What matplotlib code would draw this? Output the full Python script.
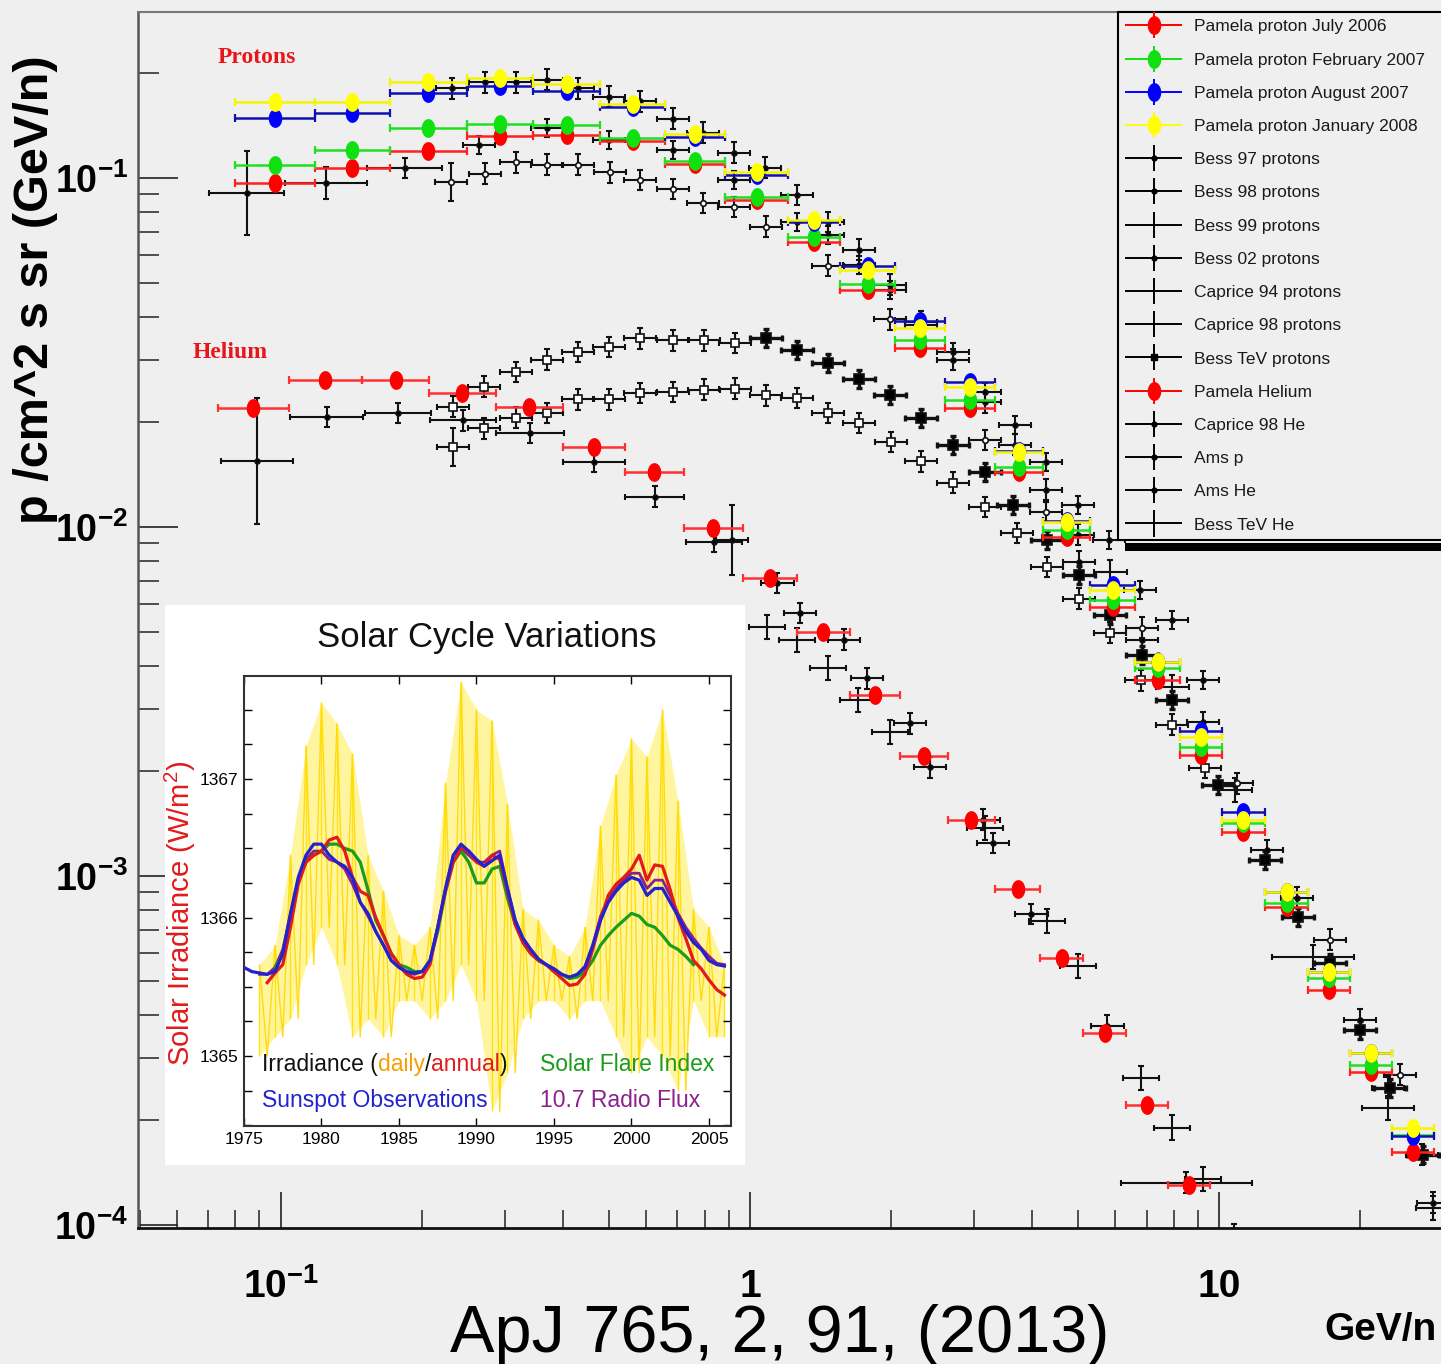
import numpy as np
import matplotlib
matplotlib.use("Agg")
import matplotlib.pyplot as plt
from matplotlib.path import Path
from matplotlib.patches import Rectangle
from matplotlib.container import ErrorbarContainer
from matplotlib.legend_handler import HandlerErrorbar
from matplotlib.ticker import LogLocator, NullFormatter, MultipleLocator

plt.rcParams["font.family"] = ["Liberation Sans", "DejaVu Sans"]
plt.rcParams["mathtext.fontset"] = "custom"
plt.rcParams["mathtext.rm"] = "Liberation Sans"
plt.rcParams["mathtext.it"] = "Liberation Sans:italic"
plt.rcParams["mathtext.bf"] = "Liberation Sans:bold"

# ---------------- PAMELA proton spectra (GeV/n bins) ----------------
pam_p_edges = [0.080, 0.118, 0.171, 0.249, 0.345, 0.479, 0.659, 0.885, 1.205,
               1.556, 2.04, 2.60, 3.33, 4.21, 5.31, 6.62, 8.26, 10.15, 12.5,
               15.5, 19.0, 23.4, 28.7]
pam_p_jul06 = [0.0968, 0.107, 0.1195, 0.132, 0.133, 0.128, 0.110, 0.0865, 0.0656,
               0.0478, 0.0326, 0.0219, 0.0144, 0.00935, 0.0059, 0.00365, 0.00222,
               0.00134, 0.000815, 0.000471, 0.000274, 0.000162]
pam_p_feb07 = [0.109, 0.120, 0.139, 0.143, 0.142, 0.130, 0.112, 0.0882, 0.0678,
               0.0497, 0.0343, 0.0231, 0.0149, 0.0098, 0.00618, 0.00394, 0.00234,
               0.00142, 0.000838, 0.000511, 0.000287, 0.000181]
pam_p_aug07 = [0.149, 0.154, 0.175, 0.183, 0.178, 0.160, 0.131, 0.102, 0.075,
               0.056, 0.039, 0.026, 0.0165, 0.0104, 0.0068, 0.0041, 0.0026,
               0.00152, 0.00090, 0.00053, 0.00031, 0.00018]
pam_p_jan08 = [0.165, 0.165, 0.188, 0.194, 0.186, 0.163, 0.134, 0.104, 0.0758,
               0.0545, 0.0372, 0.0252, 0.0164, 0.0103, 0.0066, 0.0041, 0.0025,
               0.00145, 0.00090, 0.00053, 0.00031, 0.00019]

# ---------------- PAMELA helium ----------------
pam_he_edges = [0.0734, 0.104, 0.149, 0.207, 0.287, 0.399, 0.541, 0.723, 0.966,
                1.26, 1.63, 2.09, 2.64, 3.33, 4.15, 5.13, 6.33, 7.78, 9.57]
pam_he = [0.0219, 0.0264, 0.0264, 0.0242, 0.0221, 0.0170, 0.0144, 0.00993,
          0.00714, 0.0050, 0.0033, 0.00221, 0.00145, 0.000918, 0.000582,
          0.000355, 0.000221, 0.00013]

# ---------------- other experiments (x, flux, half bin width [dec], error [dec]) ----------------
bess97_x = [0.0846, 0.1247, 0.1838, 0.2644, 0.369, 0.500, 0.685, 0.924, 1.259,
            1.708, 2.316, 3.170, 4.277, 5.829, 7.94]
bess97_y = [0.0906, 0.0968, 0.1068, 0.1243, 0.139, 0.1285, 0.1203, 0.0987,
            0.0748, 0.0563, 0.0379, 0.0244, 0.01536, 0.00918, 0.00541]
bess97_hw = [0.080, 0.088, 0.080] + [0.034] * 12
bess97_ey = [0.12, 0.045, 0.028] + [0.025] * 12

bess98_x = [0.2315, 0.2723, 0.317, 0.369, 0.430, 0.500, 0.5826, 0.685, 0.794,
            0.924, 1.076, 1.259, 1.467, 1.708, 1.988, 2.316, 2.709, 3.170,
            3.673, 4.277, 5.005]
bess98_y = [0.181, 0.188, 0.188, 0.191, 0.181, 0.171, 0.166, 0.148, 0.135,
            0.118, 0.107, 0.0894, 0.0748, 0.0622, 0.0494, 0.0387, 0.0301,
            0.0228, 0.0172, 0.0128, 0.0095]

bess99_x = [0.2326, 0.271, 0.317, 0.369, 0.430, 0.500, 0.5826, 0.685, 0.798,
            0.929, 1.082, 1.259, 1.467, 1.708, 1.998, 2.316, 2.709, 3.170,
            3.709, 4.298, 5.029, 5.855, 6.818, 7.94, 9.335]
bess99_y = [0.01695, 0.01921, 0.02053, 0.02121, 0.02326, 0.02326, 0.02421,
            0.02437, 0.0247, 0.02486, 0.02388, 0.02342, 0.02121, 0.01986,
            0.01752, 0.01545, 0.01337, 0.01141, 0.00961, 0.00768, 0.00622,
            0.00497, 0.00364, 0.00271, 0.00204]
bess99_ey = [0.055] + [0.03] * 24

bess02_x = [1.467, 1.988, 2.709, 3.673, 5.005, 6.784, 9.245]
bess02_y = [0.0687, 0.0478, 0.0317, 0.0196, 0.01156, 0.0066, 0.00364]

caprice94_x = [0.2304, 0.2723, 0.317, 0.369, 0.430, 0.503, 0.5826, 0.685, 0.794,
               0.924, 1.082, 1.467, 1.988, 3.170, 4.277, 6.851, 10.92, 17.25, 24.3]
caprice94_y = [0.0974, 0.1027, 0.1111, 0.109, 0.109, 0.104, 0.0987, 0.093,
               0.0848, 0.0826, 0.0724, 0.056, 0.0394, 0.01775, 0.01104,
               0.00514, 0.001846, 0.000656, 0.000269]
caprice94_ey = [0.055] + [0.03] * 18

caprice98_x = [5.855, 7.94, 10.82, 15.86, 22.93, 28.5]
caprice98_y = [0.00743, 0.00348, 0.001764, 0.000586, 0.000216, 0.0001118]
caprice98_hw = [0.035, 0.035, 0.035, 0.088, 0.055, 0.035]

besstev_lo_x = [0.2326, 0.2710, 0.317, 0.369, 0.430, 0.500, 0.5826, 0.685,
                0.798, 0.929]
besstev_lo_y = [0.02208, 0.02519, 0.0278, 0.0301, 0.03172, 0.03279, 0.03478,
                0.03433, 0.03433, 0.03366]
besstev_x = [1.082, 1.259, 1.467, 1.708, 1.988, 2.316, 2.709, 3.170, 3.637,
             4.298, 5.029, 5.855, 6.851, 7.94, 9.95, 12.5, 14.74, 17.25,
             19.98, 23.15, 27.2]
besstev_y = [0.03478, 0.03214, 0.02951, 0.02655, 0.02388, 0.02053, 0.01718,
             0.01437, 0.01156, 0.00918, 0.00729, 0.0056, 0.0043, 0.00319,
             0.00182, 0.00111, 0.000763, 0.000563, 0.000362, 0.000247, 0.000159]

amsp_x = [5.029, 6.851, 9.245, 12.66, 14.67, 19.98, 22.93, 27.1, 28.5]
amsp_y = [0.00794, 0.00475, 0.00276, 0.001187, 0.000865, 0.000387, 0.000247,
          0.000159, 0.0001156]

caprice98he_x = [0.0889, 0.1253, 0.1777, 0.2445, 0.3396, 0.465, 0.627, 0.838,
                 1.142, 1.586, 2.193, 3.140, 3.973, 5.770, 8.505]
caprice98he_y = [0.01545, 0.02066, 0.02121, 0.02025, 0.01859, 0.01536, 0.01219,
                 0.00906, 0.00691, 0.00475, 0.00274, 0.001447, 0.000778,
                 0.000372, 0.000132]
caprice98he_hw = [0.076, 0.078, 0.071, 0.071, 0.072, 0.066, 0.063, 0.060,
                  0.035, 0.035, 0.035, 0.035, 0.035, 0.035, 0.14]
caprice98he_ey = [0.18] + [0.03] * 14

amshe_x = [0.915, 1.278, 1.776, 2.420, 3.297]
amshe_y = [0.00918, 0.00567, 0.00369, 0.00205, 0.001243]
amshe_ey = [0.10, 0.03, 0.03, 0.03, 0.03]

besstevhe_x = [1.087, 1.259, 1.467, 1.70, 1.988, 3.170, 4.298, 5.005, 6.818,
               7.94, 9.245, 10.76]
besstevhe_y = [0.00517, 0.00475, 0.00394, 0.00319, 0.002586, 0.001372,
               0.000743, 0.000552, 0.000264, 0.00019, 0.0001355, 0.000093]

legend_names = ["Pamela proton July 2006", "Pamela proton February 2007",
                "Pamela proton August 2007", "Pamela proton January 2008",
                "Bess 97 protons", "Bess 98 protons", "Bess 99 protons",
                "Bess 02 protons", "Caprice 94 protons", "Caprice 98 protons",
                "Bess TeV protons", "Pamela Helium", "Caprice 98 He", "Ams p",
                "Ams He", "Bess TeV He"]

# ---------------- solar cycle inset ----------------
env_years = np.arange(1976, 2007, 1.0)
irr_daily_hi = [1365.66, 1365.80, 1366.45, 1367.24, 1367.55, 1367.40, 1367.18,
                1366.45, 1366.19, 1365.87, 1365.80, 1365.93, 1366.97, 1367.70,
                1367.50, 1367.42, 1366.82, 1366.06, 1365.98, 1365.80, 1365.72,
                1365.93, 1366.66, 1367.03, 1367.29, 1367.16, 1367.50, 1366.84,
                1366.06, 1365.93, 1365.66]
irr_daily_lo = [1365.00, 1365.14, 1365.27, 1365.66, 1365.93, 1365.66, 1365.14,
                1365.27, 1365.14, 1365.40, 1365.40, 1365.27, 1365.40, 1365.66,
                1365.40, 1364.60, 1364.88, 1365.27, 1365.40, 1365.40, 1365.27,
                1365.40, 1365.40, 1365.14, 1364.88, 1365.14, 1365.00, 1364.75,
                1365.40, 1365.14, 1365.14]

annual_years = np.arange(1976.5, 2006.01, 0.5)
irr_annual = [1365.53, 1365.60, 1365.66, 1365.93, 1366.24, 1366.40, 1366.45,
              1366.48, 1366.56, 1366.58, 1366.48, 1366.29, 1366.19, 1366.16,
              1366.00, 1365.87, 1365.74, 1365.66, 1365.59, 1365.56, 1365.57,
              1365.66, 1365.93, 1366.19, 1366.40, 1366.50, 1366.48, 1366.40,
              1366.37, 1366.45, 1366.42, 1366.19, 1365.95, 1365.82, 1365.74,
              1365.69, 1365.66, 1365.61, 1365.56, 1365.51, 1365.52, 1365.59,
              1365.77, 1365.98, 1366.16, 1366.24, 1366.29, 1366.35, 1366.45,
              1366.27, 1366.38, 1366.37, 1366.20, 1366.00, 1365.85, 1365.69,
              1365.63, 1365.55, 1365.48, 1365.44]

sunspot_years = np.arange(1975.0, 2006.01, 0.5)
irr_sunspot = [1365.64, 1365.61, 1365.60, 1365.59, 1365.61, 1365.74, 1366.03,
               1366.29, 1366.45, 1366.53, 1366.53, 1366.45, 1366.40, 1366.37,
               1366.29, 1366.11, 1366.03, 1365.90, 1365.80, 1365.69, 1365.64,
               1365.61, 1365.60, 1365.61, 1365.69, 1365.93, 1366.21, 1366.45,
               1366.53, 1366.48, 1366.42, 1366.37, 1366.41, 1366.45, 1366.21,
               1365.98, 1365.85, 1365.77, 1365.70, 1365.66, 1365.63, 1365.59,
               1365.57, 1365.59, 1365.64, 1365.80, 1365.98, 1366.11, 1366.19,
               1366.25, 1366.29, 1366.27, 1366.16, 1366.21, 1366.21, 1366.11,
               1366.01, 1365.90, 1365.82, 1365.77, 1365.69, 1365.66, 1365.65]

flare_years = np.arange(1977.0, 2004.01, 0.5)
irr_flare = [1365.64, 1365.74, 1366.01, 1366.27, 1366.40, 1366.45, 1366.48,
             1366.53, 1366.53, 1366.50, 1366.48, 1366.40, 1366.20, 1365.98,
             1365.87, 1365.74, 1365.66, 1365.64, 1365.61, 1365.61, 1365.69,
             1365.90, 1366.19, 1366.40, 1366.48, 1366.40, 1366.25, 1366.25,
             1366.35, 1366.37, 1366.14, 1365.95, 1365.82, 1365.74, 1365.69,
             1365.66, 1365.61, 1365.59, 1365.56, 1365.57, 1365.61, 1365.69,
             1365.80, 1365.87, 1365.93, 1365.98, 1366.03, 1366.01, 1365.95,
             1365.93, 1365.87, 1365.80, 1365.77, 1365.72, 1365.66]

radio_years = np.arange(1976.0, 2006.01, 0.5)
irr_radio = [1365.59, 1365.59, 1365.64, 1365.77, 1366.03, 1366.27, 1366.42,
             1366.48, 1366.48, 1366.42, 1366.40, 1366.35, 1366.24, 1366.11,
             1366.01, 1365.90, 1365.80, 1365.69, 1365.64, 1365.60, 1365.59,
             1365.61, 1365.69, 1365.93, 1366.21, 1366.45, 1366.50, 1366.45,
             1366.40, 1366.40, 1366.45, 1366.48, 1366.21, 1365.98, 1365.85,
             1365.77, 1365.70, 1365.66, 1365.63, 1365.59, 1365.56, 1365.59,
             1365.65, 1365.80, 1366.01, 1366.14, 1366.21, 1366.27, 1366.32,
             1366.32, 1366.21, 1366.27, 1366.27, 1366.16, 1366.03, 1365.93,
             1365.85, 1365.78, 1365.72, 1365.67, 1365.66]

inset_years = [1975, 1980, 1985, 1990, 1995, 2000, 2005]
inset_levels = [1365, 1366, 1367]

# =====================================================================
W, H = 1441, 1364
BG = "#efefef"
fig = plt.figure(figsize=(W / 100, H / 100), dpi=100, facecolor=BG)
ax = fig.add_axes([138 / W, 1 - 1228 / H, 1 - 138 / W, (1228 - 12) / H],
                  facecolor=BG)
ax.set_xscale("log")
ax.set_yscale("log")

theta = np.linspace(0, 2 * np.pi, 41)
ELL = Path(np.column_stack([0.70 * np.sin(theta), np.cos(theta)]), closed=True)


def draw_set(x, y, hw=0.034, ey=0.025, marker=None, ms=4, mfc="k",
             lw=1.5, cap=2.5, color="#111111", z=3):
    x = np.asarray(x, float)
    y = np.asarray(y, float)
    hw = np.broadcast_to(np.asarray(hw, float), x.shape)
    ey = np.broadcast_to(np.asarray(ey, float), x.shape)
    xerr = [x - x * 10 ** -hw, x * 10 ** hw - x]
    yerr = [y - y * 10 ** -ey, y * 10 ** ey - y]
    ax.errorbar(x, y, xerr=xerr, yerr=yerr, fmt="none", ecolor=color,
                elinewidth=lw, capsize=cap, capthick=lw, zorder=z)
    if marker is not None:
        ax.plot(x, y, ls="none", marker=marker, ms=ms, mfc=mfc, mec=color,
                mew=1.2, zorder=z + 0.1)


def pamela(edges, vals, color, ecolor=None, z=5):
    e = np.asarray(edges, float)
    v = np.asarray(vals, float)
    lo, hi = e[:-1], e[1:]
    xc = np.sqrt(lo * hi)
    ax.errorbar(xc, v, xerr=[xc - lo, hi - xc],
                yerr=[v - v * 10 ** -0.012, v * 10 ** 0.012 - v], fmt="none",
                ecolor=ecolor or color, elinewidth=1.8, capsize=3,
                capthick=1.6, zorder=z)
    ax.plot(xc, v, ls="none", marker=ELL, ms=12.5, color=color, mec=color,
            zorder=z + 0.5)


# black data sets
draw_set(caprice94_x, caprice94_y, 0.034, caprice94_ey, marker="o", ms=4, mfc="white")
draw_set(bess97_x, bess97_y, bess97_hw, bess97_ey, marker="o", ms=3.5)
draw_set(bess98_x, bess98_y, 0.034, 0.03, marker="o", ms=3.5)
draw_set(bess02_x, bess02_y, 0.034, 0.025, marker="o", ms=3.5)
draw_set(caprice98_x, caprice98_y, caprice98_hw, 0.035)
draw_set(amsp_x, amsp_y, 0.034, 0.03, marker="o", ms=3.5)
draw_set(bess99_x, bess99_y, 0.034, bess99_ey, marker="s", ms=5.5, mfc="white")
draw_set(besstev_lo_x, besstev_lo_y, 0.034, 0.03, marker="s", ms=5.5, mfc="white")
draw_set(besstev_x, besstev_y, 0.034, 0.025, marker="s", ms=6.5, lw=2.4)
draw_set(caprice98he_x, caprice98he_y, caprice98he_hw, caprice98he_ey, marker="o", ms=3.5)
draw_set(amshe_x, amshe_y, 0.034, amshe_ey, marker="o", ms=3.5)
draw_set(besstevhe_x, besstevhe_y, 0.038, 0.035)

# PAMELA
pamela(pam_he_edges, pam_he, "#ff0000", "#ff3030")
pamela(pam_p_edges, pam_p_jul06, "#ff0000", "#ff2020")
pamela(pam_p_edges, pam_p_feb07, "#10e010", "#20e020")
pamela(pam_p_edges, pam_p_aug07, "#0000ff", "#1010b0")
pamela(pam_p_edges, pam_p_jan08, "#ffff00", "#f5f500")

ax.text(0.0889, 0.222, "Protons", color="#e8161b", fontsize=17,
        fontweight="bold", family="Liberation Serif", ha="center", va="center")
ax.text(0.0778, 0.0317, "Helium", color="#e8161b", fontsize=17,
        fontweight="bold", family="Liberation Serif", ha="center", va="center")

# legend with proxy handles
styles = [("#ff0000", ELL, 12.5), ("#10e010", ELL, 12.5), ("#0000ff", ELL, 12.5),
          ("#ffff00", ELL, 12.5), ("k", "o", 3.5), ("k", "o", 3.5), ("k", None, 0),
          ("k", "o", 3.5), ("k", None, 0), ("k", None, 0), ("k", "s", 5),
          ("#ff0000", ELL, 12.5), ("k", "o", 3.5), ("k", "o", 3.5),
          ("k", "o", 3.5), ("k", None, 0)]
handles = []
for name, (col, mk, ms) in zip(legend_names, styles):
    kw = dict(xerr=[[1.0], [1.0]], yerr=[[1.0], [1.0]], ecolor=col,
              elinewidth=1.4, capsize=0, label=name)
    if mk is None:
        h = ax.errorbar([np.nan], [np.nan], fmt="none", **kw)
    else:
        h = ax.errorbar([np.nan], [np.nan], ls="none", marker=mk, ms=ms,
                        color=col, mfc=col, mec=col, **kw)
    handles.append(h)

leg = ax.legend(handles=handles, labels=legend_names, loc="upper left",
                bbox_to_anchor=(1118 / W, 0, 0.3, 1 - 12 / H),
                bbox_transform=fig.transFigure, mode="expand", borderaxespad=0,
                fontsize=12.5, labelspacing=1.04, handlelength=3.3,
                handletextpad=0.65, borderpad=0.42, fancybox=False,
                framealpha=1, facecolor=BG, edgecolor="k",
                handler_map={ErrorbarContainer: HandlerErrorbar(xerr_size=1.64,
                                                                yerr_size=0.75)})
leg.get_frame().set_linewidth(1.5)
leg.set_zorder(20)
for t in leg.get_texts():
    t.set_color("#1a1a1a")
ax.add_patch(Rectangle((1125 / W, 1 - 551 / H), 0.3, 8 / H,
                       transform=fig.transFigure, facecolor="k",
                       edgecolor="none", zorder=19, clip_on=False))

# white panel behind the solar inset
ax.add_patch(Rectangle((165 / W, 1 - 1165 / H), 580 / W, 560 / H,
                       transform=fig.transFigure, facecolor="white",
                       edgecolor="none", zorder=10, clip_on=False))

# axes formatting
ax.set_xlim(0.0496, 29.7)
ax.set_ylim(9.8e-5, 0.299)
ax.set_xticks([0.1, 1, 10], labels=[r"$\mathregular{10^{-1}}$", "1", "10"])
ax.set_yticks([1e-4, 1e-3, 1e-2, 1e-1],
              labels=[r"$\mathregular{10^{-4}}$", r"$\mathregular{10^{-3}}$",
                      r"$\mathregular{10^{-2}}$", r"$\mathregular{10^{-1}}$"])
ax.xaxis.set_minor_locator(LogLocator(base=10, subs=np.arange(2, 10)))
ax.yaxis.set_minor_locator(LogLocator(base=10, subs=np.arange(2, 10)))
ax.xaxis.set_minor_formatter(NullFormatter())
ax.yaxis.set_minor_formatter(NullFormatter())
ax.tick_params(axis="x", which="major", direction="in", length=26, width=1.2,
               pad=50, labelsize=28, color="#222222")
ax.tick_params(axis="x", which="minor", direction="in", length=13, width=1.1,
               color="#222222")
ax.tick_params(axis="y", which="major", direction="in", length=29, width=1.2,
               pad=7, labelsize=27, color="#222222")
ax.tick_params(axis="y", which="minor", direction="in", length=15, width=1.1,
               color="#222222")
ax.tick_params(which="both", top=False, right=False)
for lbl in ax.get_xticklabels():
    lbl.set_fontweight("bold")
    lbl.set_verticalalignment("baseline")
for lbl in ax.get_yticklabels():
    lbl.set_fontweight("bold")
ax.spines["right"].set_visible(False)
ax.spines["top"].set_color("#777777")
ax.spines["top"].set_linewidth(1.5)
ax.spines["left"].set_color("#555555")
ax.spines["left"].set_linewidth(1.8)
ax.spines["bottom"].set_color("#111111")
ax.spines["bottom"].set_linewidth(2.0)

fig.text(36 / W, 1 - 290 / H, "p /cm^2 s sr (GeV/n)", rotation=90,
         fontsize=35, fontweight="bold", ha="center", va="center")
fig.text(1380 / W, 1 - 1330 / H, "GeV/n", fontsize=28, fontweight="bold",
         ha="center", va="center")
fig.text(780 / W, 1 - 1335 / H, "ApJ 765, 2, 91, (2013)", fontsize=48,
         ha="center", va="center")

# ---------------- solar cycle inset ----------------
ax2 = fig.add_axes([244 / W, 1 - 1126 / H, 487 / W, 450 / H],
                   facecolor="white", zorder=3)
ax2.fill_between(env_years, irr_daily_lo, irr_daily_hi, color="#ffe600",
                 alpha=0.38, lw=0, zorder=1)
# daily excursions: each year's extremes joined as a saw-tooth trace
saw_t = np.repeat(env_years, 2) + np.tile([0.0, 0.5], len(env_years))
saw_v = np.column_stack([irr_daily_hi, irr_daily_lo]).ravel()
ax2.plot(saw_t[:-1], saw_v[:-1], color="#ffd800", lw=1.0, alpha=0.9, zorder=1.5)
ax2.vlines(env_years, irr_daily_lo, irr_daily_hi, color="#ffe000", lw=1.0,
           alpha=0.9, zorder=1.5)
ax2.plot(radio_years, irr_radio, color="#8b1f8b", lw=2.0, zorder=2)
ax2.plot(flare_years, irr_flare, color="#1c9c1c", lw=2.3, zorder=3)
ax2.plot(annual_years, irr_annual, color="#e31a1c", lw=2.3, zorder=4)
ax2.plot(sunspot_years, irr_sunspot, color="#2222d0", lw=2.3, zorder=5)
ax2.set_xlim(1975, 2006.42)
ax2.set_ylim(1364.495, 1367.744)
ax2.set_xticks(inset_years)
ax2.set_yticks(inset_levels)
ax2.yaxis.set_minor_locator(MultipleLocator(0.25))
ax2.tick_params(which="both", direction="in", top=True, right=True, length=6,
                width=1, labelsize=12.5, pad=4)
for sp in ax2.spines.values():
    sp.set_color("#333333")
    sp.set_linewidth(1.5)

fs = 16.5
t1 = ax2.text(1976.16, 1364.94, "Irradiance (", color="#111111", fontsize=fs,
              ha="left", va="center", zorder=6)
t2 = ax2.annotate("daily", xy=(1, 0), xycoords=t1, ha="left", va="bottom",
                  color="#f5a000", fontsize=fs, zorder=6)
t3 = ax2.annotate("/", xy=(1, 0), xycoords=t2, ha="left", va="bottom",
                  color="#111111", fontsize=fs, zorder=6)
t4 = ax2.annotate("annual", xy=(1, 0), xycoords=t3, ha="left", va="bottom",
                  color="#e31a1c", fontsize=fs, zorder=6)
ax2.annotate(")", xy=(1, 0), xycoords=t4, ha="left", va="bottom",
             color="#111111", fontsize=fs, zorder=6)
ax2.text(1976.16, 1364.68, "Sunspot Observations", color="#2222d0",
         fontsize=fs, ha="left", va="center", zorder=6)
ax2.text(1994.1, 1364.94, "Solar Flare Index", color="#1c9c1c", fontsize=fs,
         ha="left", va="center", zorder=6)
ax2.text(1994.1, 1364.68, "10.7 Radio Flux", color="#8b1f8b", fontsize=fs,
         ha="left", va="center", zorder=6)

fig.text(487 / W, 1 - 638 / H, "Solar Cycle Variations", fontsize=25,
         ha="center", va="center", color="#111111", zorder=6)
fig.text(180 / W, 1 - 913 / H, "Solar Irradiance (W/m$^2$)", rotation=90,
         fontsize=21, color="#e31a1c", ha="center", va="center", zorder=6)

fig.savefig("out.png", dpi=100, facecolor=BG)
